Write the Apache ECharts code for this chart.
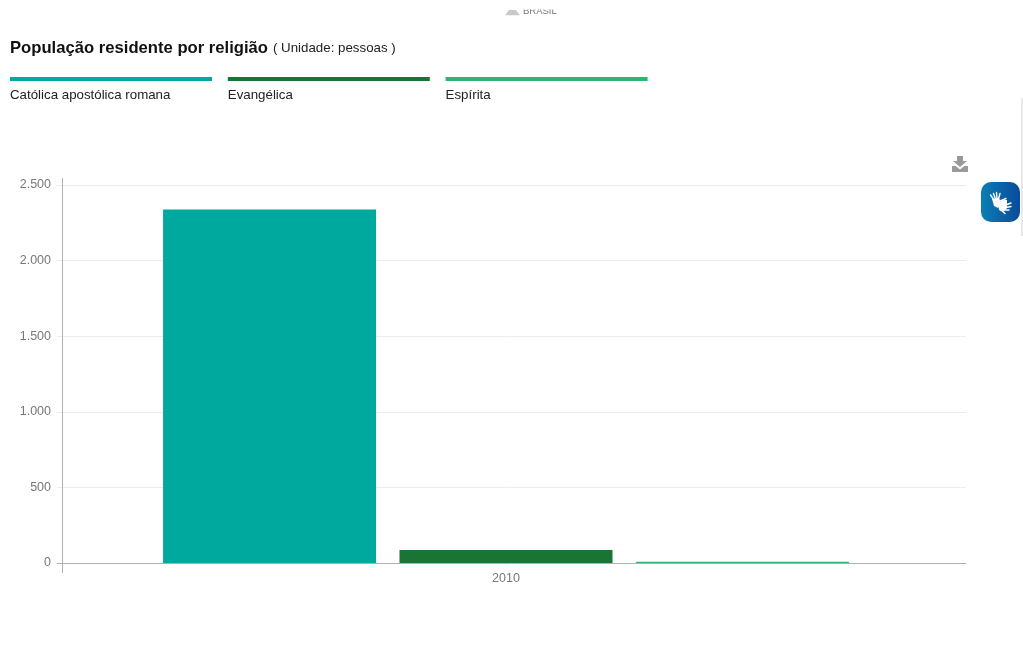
<!DOCTYPE html>
<html lang="pt-BR">
<head>
<meta charset="utf-8">
<title>População residente por religião</title>
<style>
  html, body { margin: 0; padding: 0; background: #fff; overflow: hidden; }
  #chart { width: 1023px; height: 665px; }
</style>
<script src="https://cdn.jsdelivr.net/npm/echarts@6/dist/echarts.min.js"></script>
</head>
<body>
<div id="chart"></div>
<script>
// Dados do gráfico
const categories = ['2010'];
const seriesNames = ['Católica apostólica romana', 'Evangélica', 'Espírita'];
const seriesColors = ['#00a99d', '#1a7535', '#2cb573'];
const catolica = [2338];
const evangelica = [86];
const espirita = [9];
const seriesValues = [catolica, evangelica, espirita];
const axisMax = 2500;
const axisStep = 500;

const FONT = '"Liberation Sans", Arial, sans-serif';
const formatThousands = v => String(v).replace(/\B(?=(\d{3})+$)/g, '.');

// Cabeçalho da legenda: barra colorida com o nome logo abaixo
const legendGraphics = [];
seriesNames.forEach((name, i) => {
  const x = 10 + i * 217.8;
  legendGraphics.push({
    type: 'rect', silent: true,
    shape: { x: x, y: 77, width: 202, height: 4 },
    style: { fill: seriesColors[i] }
  });
  legendGraphics.push({
    type: 'text', silent: true,
    style: { x: x, y: 88.5, text: name, fill: '#222', font: '13.3px ' + FONT, textVerticalAlign: 'top' }
  });
});

// Traços brancos dos dedos no botão de Libras
const fingerStrokes = [
  [[994, 200], [990.5, 195]],
  [[995.5, 199], [993.5, 193.5]],
  [[997, 198.5], [996.5, 192.5]],
  [[998.5, 199], [1000, 193.5]],
  [[1003, 206], [1011, 203]],
  [[1003, 208], [1011, 206.5]],
  [[1003, 210], [1009, 210]],
  [[1001, 210], [1005, 213.5]],
  [[1000, 201], [1006, 198.5]]
];

const chart = echarts.init(document.getElementById('chart'), null, { renderer: 'canvas' });

chart.setOption({
  animation: false,
  backgroundColor: '#fff',
  title: {
    left: 10, top: 39, padding: 0,
    text: '{t|População residente por religião} {u|( Unidade: pessoas )}',
    textStyle: {
      fontWeight: 'normal',
      rich: {
        t: { fontFamily: FONT, fontSize: 16.65, fontWeight: 'bold', color: '#111' },
        u: { fontFamily: FONT, fontSize: 13.3, fontWeight: 'normal', color: '#222', padding: [1, 0, 0, 0] }
      }
    }
  },
  // A grade 0 traz o eixo de valores e as linhas; a grade 1 posiciona as colunas
  grid: [
    { left: 57, right: 57, top: 185, height: 378, containLabel: false },
    { left: 46, right: 57, top: 185, height: 378, containLabel: false }
  ],
  xAxis: [
    {
      gridIndex: 0, type: 'category', data: categories,
      axisLine: { show: true, lineStyle: { color: '#b0b0b0', width: 1 } },
      axisTick: { show: false }, axisLabel: { show: false }
    },
    {
      gridIndex: 1, type: 'category', data: categories,
      axisLine: { show: false }, axisTick: { show: false },
      axisLabel: { color: '#777', fontFamily: FONT, fontSize: 12.5, fontWeight: 'normal', margin: 9.5 }
    }
  ],
  yAxis: [
    {
      gridIndex: 0, type: 'value', min: 0, max: axisMax, interval: axisStep,
      axisLine: { show: false }, axisTick: { show: false },
      splitLine: { show: true, lineStyle: { color: '#ebebeb', width: 1 } },
      axisLabel: {
        margin: 6, color: '#777', fontFamily: FONT, fontSize: 12.5,
        formatter: formatThousands
      }
    },
    {
      gridIndex: 1, type: 'value', min: 0, max: axisMax, interval: axisStep, show: false
    }
  ],
  series: seriesNames.map((name, i) => ({
    name: name,
    type: 'bar',
    xAxisIndex: 1,
    yAxisIndex: 1,
    data: seriesValues[i],
    barWidth: 213,
    barGap: '11%',
    itemStyle: { color: seriesColors[i] }
  })),
  graphic: legendGraphics.concat([
    // Linha vertical do eixo de valores, um pouco além da área de plotagem
    {
      type: 'line', silent: true, z: 5,
      shape: { x1: 62.5, y1: 178, x2: 62.5, y2: 573 },
      style: { stroke: '#b0b0b0', lineWidth: 1 }
    },
    // Identificação do site no topo, cortada pela borda
    {
      type: 'text', silent: true,
      style: { x: 523, y: 16.5, text: 'BRASIL', fill: '#777', font: '9.5px ' + FONT, textVerticalAlign: 'bottom' }
    },
    {
      type: 'rect', silent: true, z: 10,
      shape: { x: 500, y: 0, width: 70, height: 9.5 }, style: { fill: '#fff' }
    },
    {
      type: 'rect', silent: true, z: 10,
      shape: { x: 500, y: 15.5, width: 70, height: 4 }, style: { fill: '#fff' }
    },
    {
      type: 'polygon', silent: true,
      shape: { points: [[505, 15.5], [509, 10], [516, 10], [520, 15.5]] }, style: { fill: '#c8c8c8' }
    },
    // Ícone de download
    {
      type: 'polygon', silent: true,
      shape: { points: [[957, 156], [963, 156], [963, 161], [967, 161], [960, 167], [953, 161], [957, 161]] },
      style: { fill: '#9a9a9a' }
    },
    {
      type: 'polygon', silent: true,
      shape: { points: [[952, 166], [955.5, 166], [960, 169.5], [964.5, 166], [968, 166], [968, 172], [952, 172]] },
      style: { fill: '#9a9a9a' }
    },
    // Botão de acessibilidade em Libras
    {
      type: 'rect', silent: true,
      shape: { x: 981, y: 182, width: 39, height: 40, r: 10 },
      style: {
        fill: new echarts.graphic.LinearGradient(0, 0, 1, 0, [
          { offset: 0, color: '#0a7fb5' },
          { offset: 1, color: '#0a4a9a' }
        ])
      }
    },
    {
      type: 'polygon', silent: true,
      shape: { points: [[992, 199], [999, 198], [1001, 203], [998, 208], [994, 206]] },
      style: { fill: '#fff' }
    },
    {
      type: 'polygon', silent: true,
      shape: { points: [[998, 204], [1002, 200], [1007, 200], [1007, 208], [1003, 212], [999, 210]] },
      style: { fill: '#fff' }
    }
  ]).concat(fingerStrokes.map(([a, b]) => ({
    type: 'line', silent: true,
    shape: { x1: a[0], y1: a[1], x2: b[0], y2: b[1] },
    style: { stroke: '#fff', lineWidth: 1.4, lineCap: 'round' }
  }))).concat([
    // Faixa cinza na borda direita da página
    {
      type: 'rect', silent: true,
      shape: { x: 1021, y: 98, width: 2, height: 138 }, style: { fill: '#e8e8e8' }
    }
  ])
});
</script>
</body>
</html>
